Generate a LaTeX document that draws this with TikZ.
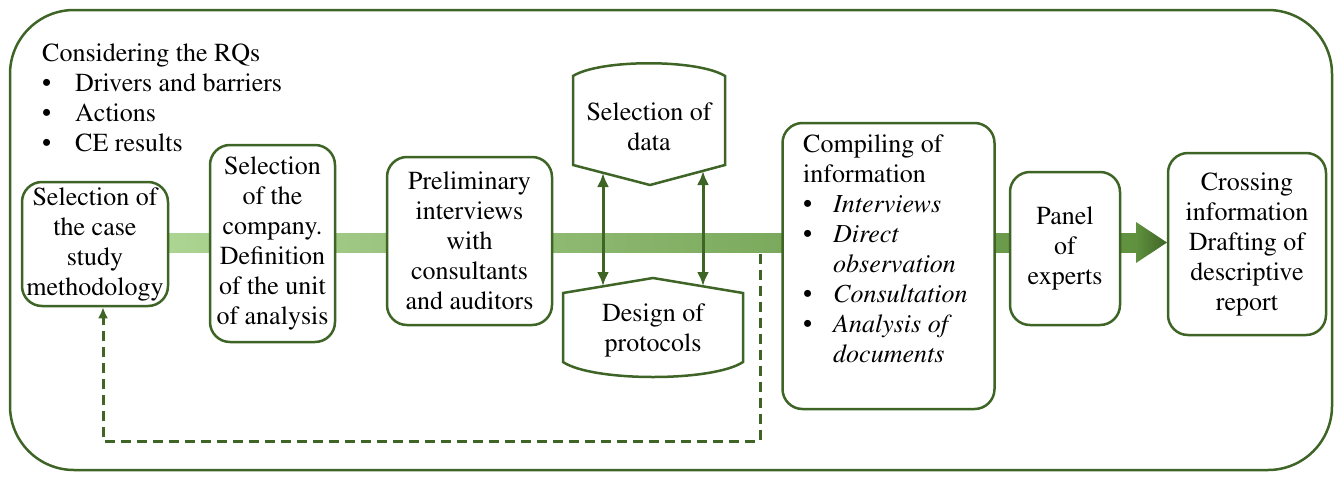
\documentclass[tikz,border=0pt]{standalone}
\usepackage[T1]{fontenc}
\usepackage{textcomp}
\renewcommand{\rmdefault}{ptm}
\usetikzlibrary{arrows.meta}
\definecolor{dkg}{RGB}{62,100,38}
\definecolor{lg}{RGB}{172,212,146}
\definecolor{mg}{RGB}{95,145,62}
\begin{document}
\begin{tikzpicture}[x=1pt,y=-1pt,
  font=\fontsize{26}{30}\selectfont,
  box/.style={draw=dkg, line width=2.5pt, rounded corners=20pt, fill=white, align=center, inner sep=0pt},
  shapeline/.style={draw=dkg, line width=2.5pt, fill=white, line join=miter},
  txt/.style={align=center, inner sep=0pt},
  ltxt/.style={align=left, inner sep=0pt, anchor=north west},
  dblarrow/.style={draw=dkg, line width=3pt, {Latex[length=14pt,width=12pt]}-{Latex[length=14pt,width=12pt]}},
  dashline/.style={draw=dkg, line width=3pt, dash pattern=on 10pt off 6pt, -{Latex[length=11pt,width=10pt]}}
]
\useasboundingbox (0,0) rectangle (1338,477);
% outer frame
\draw[dkg, line width=2.5pt, rounded corners=64pt] (10,10) rectangle (1332,470);
% top-left text
\node[ltxt] (rqs) at (42,44) {Considering the RQs\\
\makebox[33pt][l]{\textbullet}Drivers and barriers\\
\makebox[33pt][l]{\textbullet}Actions\\
\makebox[33pt][l]{\textbullet}CE results};
% band
\shade[left color=lg, right color=mg] (168,233) rectangle (1140,252);
\shade[left color=mg, right color=dkg] (1136,222) -- (1167,242.5) -- (1136,263) -- cycle;
% boxes
\node[box, minimum width=146pt, minimum height=124pt] (b1) at (95,244) {Selection of\\the case\\study\\methodology};
\node[box, minimum width=125pt, minimum height=197pt] (b2) at (272.5,243.5) {Selection\\of the\\company.\\Definition\\of the unit\\of analysis};
\node[box, minimum width=165pt, minimum height=168pt] (b3) at (469.5,241) {Preliminary\\interviews\\with\\consultants\\and auditors};
\node[box, minimum width=212pt, minimum height=286pt] (comp) at (888.5,266) {};
\node[ltxt] (comptxt) at (803,135) {Compiling of\\information\\
\makebox[30pt][l]{\textbullet}\textit{Interviews}\\
\makebox[30pt][l]{\textbullet}\textit{Direct}\\
\hspace*{30pt}\textit{observation}\\
\makebox[30pt][l]{\textbullet}\textit{Consultation}\\
\makebox[30pt][l]{\textbullet}\textit{Analysis of}\\
\hspace*{30pt}\textit{documents}};
\node[box, minimum width=110pt, minimum height=153pt] (panel) at (1065,248.5) {Panel\\of\\experts};
\node[box, minimum width=158pt, minimum height=182pt] (cross) at (1247,244) {Crossing\\information\\Drafting of\\descriptive\\report};
% selection of data shape
\draw[shapeline] (573,165) -- (573,76) .. controls (600,59) and (698,59) .. (725,76) -- (725,165) -- (650,185) -- cycle;
\node[txt] (seld) at (649,127) {Selection of\\data};
% design of protocols shape
\draw[shapeline] (563,293) -- (653,278) -- (743,293) -- (743,362) .. controls (713,382) and (593,382) .. (563,362) -- cycle;
\node[txt] (desp) at (653,330) {Design of\\protocols};
% double arrows
\coordinate (a1t) at (603,173);
\coordinate (a1b) at (603,286);
\coordinate (a2t) at (703,171);
\coordinate (a2b) at (703,286);
\draw[dblarrow] (a1t) -- (a1b);
\draw[dblarrow] (a2t) -- (a2b);
% dashed feedback
\coordinate (dstart) at (760,254);
\coordinate (dcorner) at (103,441);
\draw[dashline] (dstart) |- (dcorner) -- (dcorner |- b1.south);
\end{tikzpicture}
\end{document}
